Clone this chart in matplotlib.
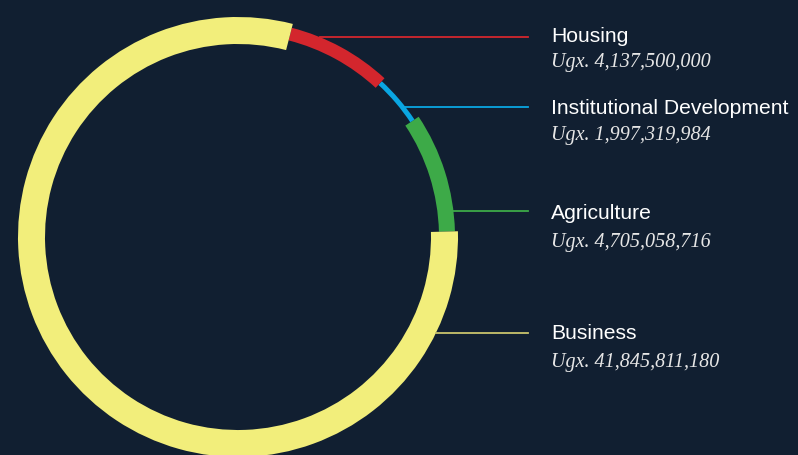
#!/usr/bin/env python3
# -*- coding: utf-8 -*-
"""
    Donut chart: distribution of funds by sector (Ugx).
"""

import numpy as np
import matplotlib.pyplot as plt

# Datos (orden de las etiquetas, de arriba a abajo)
categories = ["Housing", "Institutional Development", "Agriculture", "Business"]
amounts = [4137500000, 1997319984, 4705058716, 41845811180]
value_labels = ["Ugx. 4,137,500,000", "Ugx. 1,997,319,984",
                "Ugx. 4,705,058,716", "Ugx. 41,845,811,180"]

# Estilo de cada sector
colors = {"Housing": "#D3262D", "Institutional Development": "#0AA6E2",
          "Agriculture": "#3DAA48", "Business": "#F2EE7B"}
line_colors = {"Housing": "#D3262D", "Institutional Development": "#0AA6E2",
               "Agriculture": "#3DAA48", "Business": "#C9C46C"}
# radio exterior y grosor del anillo (px)
ring = {"Housing": (216, 13), "Institutional Development": (212, 5),
        "Agriculture": (217, 16), "Business": (220, 27)}
# posiciones verticales (px desde arriba): linea, nombre, valor
line_y = [38, 108, 212, 334]
name_y = [42, 114, 219, 339]
value_y = [67, 140, 247, 367]

BG = "#111F31"
W, H = 798, 456
cx, cy = 238, H - 238

fig = plt.figure(figsize=(W / 100, H / 100), dpi=100, facecolor=BG)
ax = fig.add_axes([0, 0, 1, 1])
ax.set_facecolor(BG)

# El pie va en sentido antihorario desde las 3: Agriculture, Inst., Housing, Business
order = ["Agriculture", "Institutional Development", "Housing", "Business"]
vals = [amounts[categories.index(c)] for c in order]
wedges, _ = ax.pie(vals, colors=[colors[c] for c in order], startangle=1.5,
                   counterclock=True, radius=220, center=(cx, cy),
                   wedgeprops=dict(width=27, linewidth=0))
for w, c in zip(wedges, order):
    r, wd = ring[c]
    w.set_radius(r)
    w.set_width(wd)

# Lineas guia y textos
for i, c in enumerate(categories):
    y = H - line_y[i]
    r = ring[c][0]
    x0 = cx + np.sqrt(r ** 2 - (y - cy) ** 2)
    ax.plot([x0, 528], [y, y], color=line_colors[c], lw=1.3)
    ax.text(551, H - name_y[i], c, color="white", fontsize=15.2,
            family="Liberation Sans", va="baseline", ha="left")
    ax.text(551, H - value_y[i], value_labels[i], color="#E6E6E6", fontsize=14.5,
            family="Liberation Serif", style="italic", va="baseline", ha="left")

ax.set_xlim(0, W)
ax.set_ylim(0, H)
ax.set_aspect("equal")
ax.axis("off")

fig.savefig("out.png", dpi=100, facecolor=BG)
